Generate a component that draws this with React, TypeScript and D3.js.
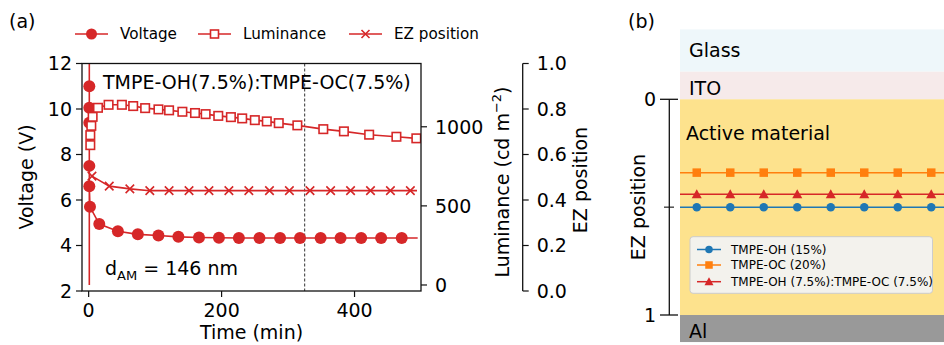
import React from 'react';
import * as d3 from 'd3';

// panel (a) data
const voltTime = [1, 1, 1, 1, 1, 1, 1, 2, 16, 44, 74, 105, 135, 166, 196, 226, 257, 288, 318, 349, 379, 410, 440, 471, 495];
const voltage = [2.26, 13.5, 11.0, 10.05, 9.4, 7.5, 6.6, 5.7, 4.94, 4.63, 4.49, 4.44, 4.38, 4.35, 4.34, 4.33, 4.33, 4.33, 4.33, 4.33, 4.33, 4.33, 4.33, 4.33, 4.33];

const lumTime = [2.5, 2.5, 4, 6, 14, 30, 50, 67, 85, 105, 121, 141, 160, 176, 195, 214, 231, 250, 268, 286, 314, 353, 384, 422, 463, 493];
const luminance = [884, 947, 1006, 1063, 1120, 1139, 1139, 1131, 1118, 1110, 1104, 1095, 1087, 1080, 1069, 1061, 1053, 1042, 1034, 1023, 1009, 985, 971, 950, 937, 927];

const ezTime = [5, 31, 62, 92, 121, 151, 181, 211, 241, 272, 302, 333, 364, 394, 424, 454, 484, 494];
const ezPos = [0.505, 0.461, 0.449, 0.441, 0.441, 0.441, 0.441, 0.441, 0.441, 0.441, 0.441, 0.441, 0.441, 0.441, 0.441, 0.441, 0.441, 0.441];

const dashTime = 325;
const voltTicks = [2, 4, 6, 8, 10, 12];
const timeTicks = [0, 200, 400];
const lumTicks = [0, 500, 1000];
const ezTicks = [0, 0.2, 0.4, 0.6, 0.8, 1.0];

// panel (b) data
const layerNames = ['Glass', 'ITO', 'Active material', 'Al'];
const layerTop = [-0.325, -0.128, 0, 1];
const layerBottom = [-0.128, 0, 1, 1.126];
const layerColors = ['#eef7fa', '#f6eaea', '#fde28d', '#999999'];

const stackX = [0.5, 1.5, 2.5, 3.5, 4.5, 5.5, 6.5, 7.5, 8.5, 9.5];
const emitters = ['TMPE-OH (15%)', 'TMPE-OC (20%)', 'TMPE-OH (7.5%):TMPE-OC (7.5%)'];
const emitterEZ = [0.5, 0.34, 0.44];
const emitterColors = ['#1f77b4', '#ff7f0e', '#d62728'];

const RED = '#d62728';
const FONT = 'DejaVu Sans';

const Marker = ({ kind, x, y, color, size }: any) => {
  if (kind === 'circle') return <circle cx={x} cy={y} r={size / 2} fill={color} />;
  if (kind === 'square-open')
    return <rect x={x - size / 2} y={y - size / 2} width={size} height={size} fill="white" stroke={color} strokeWidth={1.6} />;
  if (kind === 'square') return <rect x={x - size / 2} y={y - size / 2} width={size} height={size} fill={color} />;
  if (kind === 'cross') {
    const h = size / 2;
    return (
      <path d={`M${x - h},${y - h}L${x + h},${y + h}M${x - h},${y + h}L${x + h},${y - h}`} stroke={color} strokeWidth={1.6} />
    );
  }
  // triangle
  const h = size / 2;
  return <path d={`M${x},${y - h}L${x + h},${y + h * 0.8}L${x - h},${y + h * 0.8}Z`} fill={color} />;
};

export default function App() {
  const x = d3.scaleLinear().domain([-10, 500]).range([82, 421]);
  const yV = d3.scaleLinear().domain([2, 12]).range([291, 63.5]);
  const yL = d3.scaleLinear().domain([-38, 1400]).range([291, 63.5]);
  const yE = d3.scaleLinear().domain([0, 1]).range([291, 63.5]);
  const ezAxisX = 522.7;

  const xb = d3.scaleLinear().domain([0, 10]).range([680, 1015]);
  const yb = d3.scaleLinear().domain([0, 1]).range([99.3, 315]);

  const line = d3.line<number[]>().x(d => d[0]).y(d => d[1]);
  const vPts = voltTime.map((t, i) => [x(t), yV(voltage[i])]);
  const lPts = lumTime.map((t, i) => [x(t), yL(luminance[i])]);
  const ePts = ezTime.map((t, i) => [x(t), yE(ezPos[i])]);

  const [x0, x1] = x.range();
  const [yBot, yTop] = yV.range();
  const tk = 6;

  return (
    <div style={{ position: 'absolute', left: 0, top: 0 }}>
      <svg width={944} height={345} fontFamily={FONT} style={{ display: 'block' }}>
        <defs>
          <clipPath id="clipA">
            <rect x={x0} y={yTop} width={x1 - x0} height={yBot - yTop} />
          </clipPath>
          <clipPath id="clipB">
            <rect x={680} y={yb(-0.325)} width={300} height={yb(1.126) - yb(-0.325)} />
          </clipPath>
        </defs>

        {/* ---------- panel (a) ---------- */}
        <text x={9} y={28} fontSize={19}>(a)</text>

        {/* legend */}
        {[
          { label: 'Voltage', kind: 'circle', lx: 75, size: 11 },
          { label: 'Luminance', kind: 'square-open', lx: 198, size: 8 },
          { label: 'EZ position', kind: 'cross', lx: 349, size: 8 },
        ].map(d => (
          <g key={d.label}>
            <line x1={d.lx} x2={d.lx + 33} y1={34} y2={34} stroke={RED} strokeWidth={1.6} />
            <Marker kind={d.kind} x={d.lx + 16.5} y={34} color={RED} size={d.size} />
            <text x={d.lx + 45} y={34} dy="0.36em" fontSize={15.2}>{d.label}</text>
          </g>
        ))}

        <g clipPath="url(#clipA)">
          <line x1={x(dashTime)} x2={x(dashTime)} y1={yTop} y2={yBot} stroke="#333" strokeWidth={1} strokeDasharray="3,2" />
          <path d={line(vPts) || ''} fill="none" stroke={RED} strokeWidth={1.6} />
          <path d={line(lPts) || ''} fill="none" stroke={RED} strokeWidth={1.6} />
          <path d={line(ePts) || ''} fill="none" stroke={RED} strokeWidth={1.6} />
          {vPts.slice(1, -1).map((p, i) => (
            <Marker key={'v' + i} kind="circle" x={p[0]} y={p[1]} color={RED} size={12} />
          ))}
          {lPts.map((p, i) => (
            <Marker key={'l' + i} kind="square-open" x={p[0]} y={p[1]} color={RED} size={8.5} />
          ))}
          {ePts.slice(0, -1).map((p, i) => (
            <Marker key={'e' + i} kind="cross" x={p[0]} y={p[1]} color={RED} size={8.5} />
          ))}
        </g>

        {/* frame */}
        <rect x={x0} y={yTop} width={x1 - x0} height={yBot - yTop} fill="none" stroke="#111" strokeWidth={1.3} />
        <text x={103} y={82} dy="0.36em" fontSize={19}>TMPE-OH(7.5%):TMPE-OC(7.5%)</text>
        <text x={105} y={268} dy="0.36em" fontSize={19}>
          d<tspan fontSize={13} dy="5">AM</tspan><tspan dy="-5"> = 146 nm</tspan>
        </text>

        {/* left axis */}
        {voltTicks.map(v => (
          <g key={'vt' + v}>
            <line x1={x0 - tk} x2={x0} y1={yV(v)} y2={yV(v)} stroke="#111" strokeWidth={1.2} />
            <text x={x0 - tk - 4} y={yV(v)} dy="0.36em" textAnchor="end" fontSize={19}>{v}</text>
          </g>
        ))}
        <text transform={`translate(26,177) rotate(-90)`} textAnchor="middle" dy="0.36em" fontSize={19}>Voltage (V)</text>

        {/* bottom axis */}
        {timeTicks.map(t => (
          <g key={'tt' + t}>
            <line x1={x(t)} x2={x(t)} y1={yBot} y2={yBot + tk} stroke="#111" strokeWidth={1.2} />
            <text x={x(t)} y={yBot + tk + 20} textAnchor="middle" fontSize={19}>{t}</text>
          </g>
        ))}
        <text x={(x0 + x1) / 2} y={339} textAnchor="middle" fontSize={19}>Time (min)</text>

        {/* luminance axis */}
        {lumTicks.map(v => (
          <g key={'lt' + v}>
            <line x1={x1} x2={x1 + tk} y1={yL(v)} y2={yL(v)} stroke="#111" strokeWidth={1.2} />
            <text x={x1 + tk + 8} y={yL(v)} dy="0.36em" fontSize={19}>{v}</text>
          </g>
        ))}
        <text transform={`translate(502,182) rotate(-90)`} textAnchor="middle" dy="0.36em" fontSize={19}>
          Luminance (cd m<tspan fontSize={13} dy="-8">−2</tspan><tspan dy="8">)</tspan>
        </text>

        {/* EZ position axis */}
        <line x1={ezAxisX} x2={ezAxisX} y1={yE(0)} y2={yE(1)} stroke="#111" strokeWidth={1.3} />
        {ezTicks.map(v => (
          <g key={'et' + v}>
            <line x1={ezAxisX} x2={ezAxisX + tk} y1={yE(v)} y2={yE(v)} stroke="#111" strokeWidth={1.2} />
            <text x={ezAxisX + tk + 8} y={yE(v)} dy="0.36em" fontSize={19}>{v.toFixed(1)}</text>
          </g>
        ))}
        <text transform={`translate(580,180) rotate(-90)`} textAnchor="middle" dy="0.36em" fontSize={19}>EZ position</text>

        {/* ---------- panel (b) ---------- */}
        <text x={628} y={28} fontSize={19}>(b)</text>
        <g clipPath="url(#clipB)">
          {layerNames.map((n, i) => (
            <rect key={n} x={680} width={300} y={yb(layerTop[i])} height={yb(layerBottom[i]) - yb(layerTop[i])} fill={layerColors[i]} />
          ))}
          {emitters.map((n, i) => (
            <g key={n}>
              <line x1={xb(0)} x2={xb(10)} y1={yb(emitterEZ[i])} y2={yb(emitterEZ[i])} stroke={emitterColors[i]} strokeWidth={1.5} />
              {stackX.map(s => (
                <Marker key={s} kind={['circle', 'square', 'triangle'][i]} x={xb(s)} y={yb(emitterEZ[i])} color={emitterColors[i]} size={i === 2 ? 10 : 8.5} />
              ))}
            </g>
          ))}
        </g>
        {layerNames.map((n, i) => (
          <text key={'ln' + n} x={i === 2 ? 686 : 689} y={[57, 95, 140, 338][i]} fontSize={19}>{n}</text>
        ))}

        {/* legend (b) */}
        <rect x={690} y={236.7} width={242.5} height={56.6} rx={3} fill="#f2f2f2" fillOpacity={0.95} stroke="#cccccc" strokeWidth={1} />
        {emitters.map((n, i) => {
          const ly = [249.5, 265, 281.7][i];
          return (
            <g key={'lg' + n}>
              <line x1={697} x2={721} y1={ly} y2={ly} stroke={emitterColors[i]} strokeWidth={1.5} />
              <Marker kind={['circle', 'square', 'triangle'][i]} x={709} y={ly} color={emitterColors[i]} size={i === 2 ? 9 : 7.5} />
              <text x={731} y={ly} dy="0.36em" fontSize={12}>{n}</text>
            </g>
          );
        })}

        {/* EZ axis (b) */}
        <line x1={669.3} x2={669.3} y1={yb(0)} y2={yb(1)} stroke="#111" strokeWidth={1.3} />
        {[0, 1].map(v => (
          <g key={'bt' + v}>
            <line x1={660} x2={678} y1={yb(v)} y2={yb(v)} stroke="#111" strokeWidth={1.3} />
            <text x={656} y={yb(v)} dy="0.36em" textAnchor="end" fontSize={19}>{v}</text>
          </g>
        ))}
        <line x1={664} x2={674} y1={yb(0.5)} y2={yb(0.5)} stroke="#111" strokeWidth={1.1} />
        <text transform={`translate(638,207) rotate(-90)`} textAnchor="middle" dy="0.36em" fontSize={19}>EZ position</text>
      </svg>
    </div>
  );
}
